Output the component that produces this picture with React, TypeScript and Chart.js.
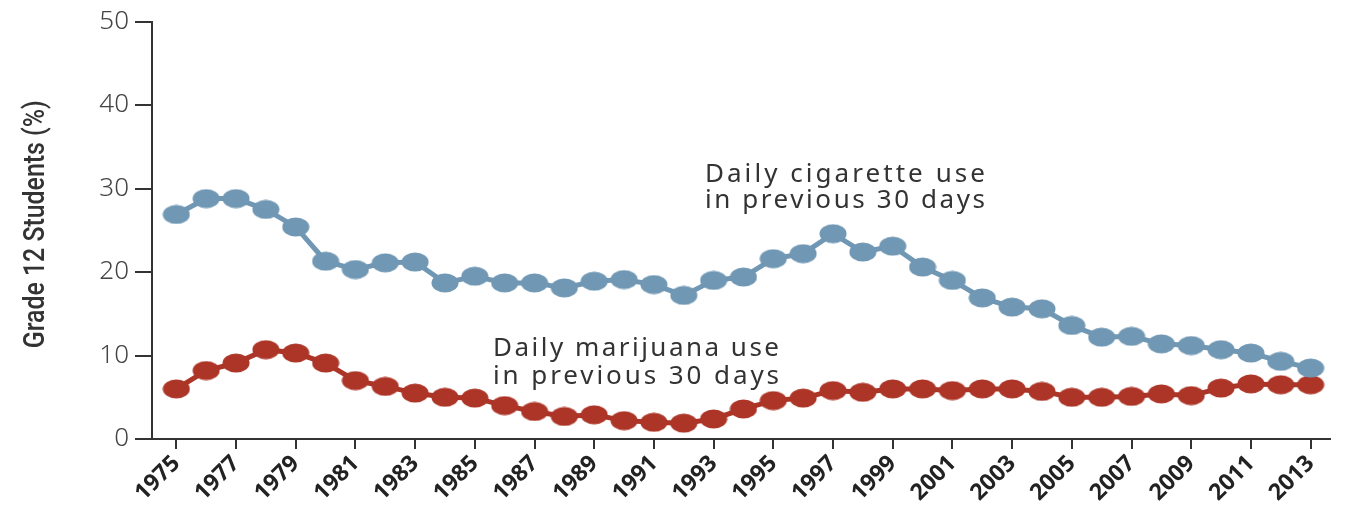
import React, { useEffect, useRef } from "react";
import { Chart, registerables } from "chart.js";

Chart.register(...registerables);

const years = [
  1975, 1976, 1977, 1978, 1979, 1980, 1981, 1982, 1983, 1984,
  1985, 1986, 1987, 1988, 1989, 1990, 1991, 1992, 1993, 1994,
  1995, 1996, 1997, 1998, 1999, 2000, 2001, 2002, 2003, 2004,
  2005, 2006, 2007, 2008, 2009, 2010, 2011, 2012, 2013,
];

const cigaretteDaily = [
  26.9, 28.8, 28.8, 27.5, 25.4, 21.3, 20.3, 21.1, 21.2, 18.7,
  19.5, 18.7, 18.7, 18.1, 18.9, 19.1, 18.5, 17.2, 19.0, 19.4,
  21.6, 22.2, 24.6, 22.4, 23.1, 20.6, 19.0, 16.9, 15.8, 15.6,
  13.6, 12.2, 12.3, 11.4, 11.2, 10.7, 10.3, 9.3, 8.5,
];

const marijuanaDaily = [
  6.0, 8.2, 9.1, 10.7, 10.3, 9.1, 7.0, 6.3, 5.5, 5.0,
  4.9, 4.0, 3.3, 2.7, 2.9, 2.2, 2.0, 1.9, 2.4, 3.6,
  4.6, 4.9, 5.8, 5.6, 6.0, 6.0, 5.8, 6.0, 6.0, 5.7,
  5.0, 5.0, 5.1, 5.4, 5.2, 6.1, 6.6, 6.5, 6.5,
];

const xTickYears = [
  1975, 1977, 1979, 1981, 1983, 1985, 1987, 1989, 1991, 1993,
  1995, 1997, 1999, 2001, 2003, 2005, 2007, 2009, 2011, 2013,
];

const yTicks = [0, 10, 20, 30, 40, 50];

const yTitle = "Grade 12 Students (%)";
const cigaretteLabel = ["Daily cigarette use", "in previous 30 days"];
const marijuanaLabel = ["Daily marijuana use", "in previous 30 days"];

const BLUE = "#7097b3";
const RED = "#ac3528";

function makeDot(color: string): HTMLCanvasElement {
  const c = document.createElement("canvas");
  c.width = 28;
  c.height = 20;
  const ctx = c.getContext("2d")!;
  ctx.fillStyle = color;
  ctx.beginPath();
  ctx.ellipse(14, 10, 13.5, 9.5, 0, 0, Math.PI * 2);
  ctx.fill();
  return c;
}

const annotationPlugin = {
  id: "seriesLabels",
  afterDatasetsDraw(chart: any) {
    const { ctx, scales, chartArea } = chart;
    const items = [
      { lines: cigaretteLabel, x: 1997.4, y: [30.8, 27.7], width: 280 },
      { lines: marijuanaLabel, x: 1990.4, y: [10.0, 6.6], width: 286 },
    ];
    ctx.save();
    ctx.fillStyle = "#333333";
    ctx.font = "26px 'Noto Sans'";
    ctx.textBaseline = "alphabetic";
    ctx.textAlign = "left";
    for (const it of items) {
      const cx = scales.x.getPixelForValue(it.x);
      it.lines.forEach((line: string, i: number) => {
        ctx.letterSpacing = "0px";
        const w = ctx.measureText(line).width;
        const sp = (it.width - w) / Math.max(1, line.length - 1);
        ctx.letterSpacing = sp + "px";
        const py = scales.y.getPixelForValue(it.y[i]);
        ctx.fillText(line, cx - it.width / 2, py);
      });
    }
    ctx.restore();

    // y-axis title, condensed
    ctx.save();
    ctx.letterSpacing = "0px";
    ctx.fillStyle = "#333333";
    ctx.font = "500 29px Roboto";
    const tw = ctx.measureText(yTitle).width;
    const targetW = 248;
    const cy = (chartArea.top + chartArea.bottom) / 2 - 6;
    ctx.translate(37, cy);
    ctx.rotate(-Math.PI / 2);
    ctx.scale(targetW / tw, 1);
    ctx.textAlign = "center";
    ctx.textBaseline = "middle";
    ctx.fillText(yTitle, 0, 0);
    ctx.restore();
  },
};

export default function App() {
  const ref = useRef<HTMLCanvasElement | null>(null);

  useEffect(() => {
    document.body.style.margin = "0";
    const canvas = ref.current;
    if (!canvas) return;
    const blueDot = makeDot(BLUE);
    const redDot = makeDot(RED);
    const chart = new Chart(canvas, {
      type: "line",
      data: {
        datasets: [
          {
            label: "Daily cigarette use in previous 30 days",
            data: years.map((y, i) => ({ x: y, y: cigaretteDaily[i] })),
            borderColor: BLUE,
            backgroundColor: BLUE,
            borderWidth: 5,
            pointStyle: blueDot as any,
            pointRadius: 13,
            tension: 0,
          },
          {
            label: "Daily marijuana use in previous 30 days",
            data: years.map((y, i) => ({ x: y, y: marijuanaDaily[i] })),
            borderColor: RED,
            backgroundColor: RED,
            borderWidth: 5,
            pointStyle: redDot as any,
            pointRadius: 13,
            tension: 0,
          },
        ],
      },
      options: {
        animation: false,
        responsive: true,
        maintainAspectRatio: false,
        layout: { padding: { top: 20, left: 0, right: 0, bottom: 0 } },
        plugins: {
          legend: { display: false },
          tooltip: { enabled: false },
        },
        scales: {
          x: {
            type: "linear",
            min: 1974.185,
            max: 2013.65,
            afterBuildTicks(scale: any) {
              scale.ticks = xTickYears.map((v) => ({ value: v }));
            },
            afterFit(scale: any) {
              scale.height = 66;
            },
            grid: {
              drawOnChartArea: false,
              drawTicks: true,
              tickLength: 10,
              color: "#333333",
              lineWidth: 2,
            },
            border: { display: true, color: "#333333", width: 2 },
            ticks: {
              minRotation: 45,
              maxRotation: 45,
              padding: 1,
              color: "#222222",
              font: { family: "Open Sans", size: 23, weight: "bold" },
              callback: (v: any) => String(v),
            },
          },
          y: {
            min: 0,
            max: 50,
            afterBuildTicks(scale: any) {
              scale.ticks = yTicks.map((v) => ({ value: v }));
            },
            afterFit(scale: any) {
              scale.width = 152;
            },
            grid: {
              drawOnChartArea: false,
              drawTicks: true,
              tickLength: 17,
              color: "#333333",
              lineWidth: 2,
            },
            border: { display: true, color: "#333333", width: 2 },
            ticks: {
              padding: 6,
              color: "#444444",
              font: { family: "Noto Sans", size: 26, weight: "300" },
            },
          },
        },
      },
      plugins: [annotationPlugin],
    });
    return () => chart.destroy();
  }, []);

  return (
    <div style={{ position: "fixed", left: 0, top: 0, width: 1348, height: 505 }}>
      <canvas ref={ref} />
    </div>
  );
}
